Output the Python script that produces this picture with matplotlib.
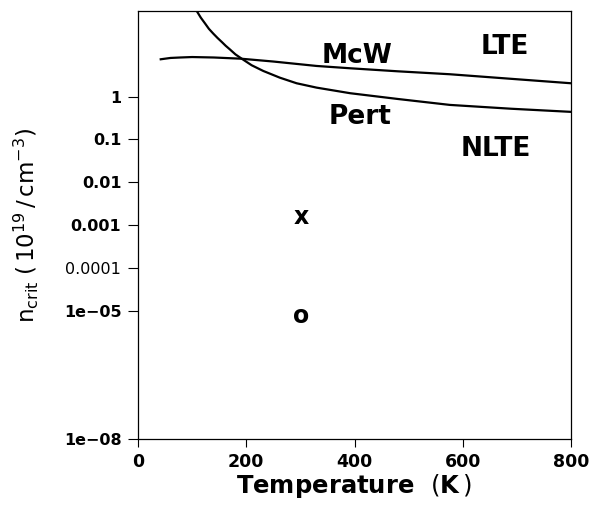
import matplotlib
matplotlib.use("Agg")
import matplotlib.pyplot as plt

plt.rcParams["font.family"] = ["DejaVu Sans"]
plt.rcParams["mathtext.fontset"] = "dejavusans"

# curve values (T in K, n_crit in 1e19/cm^3)
mcw_T = [42, 60, 78, 100, 140, 190, 250, 330, 392, 480, 576, 690, 800]
mcw_n = [7.45, 8.0, 8.2, 8.4, 8.2, 7.69, 6.6, 5.2, 4.59, 3.9, 3.33, 2.6, 2.05]

pert_T = [108.5, 116, 124, 131, 139, 147, 155, 162, 170, 180, 191.6, 210, 231.5,
          262, 293, 330, 392, 480, 576, 690, 800]
pert_n = [100, 70, 50.9, 38.3, 29.7, 23.4, 18.8, 15.4, 12.6, 9.7, 7.69, 5.4, 3.97,
          2.77, 2.05, 1.62, 1.2, 0.88, 0.64, 0.52, 0.44]

# region labels
region_text = ["McW", "LTE", "Pert", "NLTE"]
region_T = [405, 678, 410, 661]
region_n = [6.2, 9.7, 0.231, 0.0414]

# single points drawn as letters
point_text = ["x", "o"]
point_T = [302, 302]
point_n = [1.08e-3, 5.0e-6]

y_ticks = [1e-8, 1e-5, 1e-4, 1e-3, 1e-2, 1e-1, 1]
y_ticklabels = ["1e\u221208", "1e\u221205", "0.0001", "0.001", "0.01", "0.1", "1"]
x_ticks = [0, 200, 400, 600, 800]

fig = plt.figure(figsize=(6.0, 5.07), dpi=100)
ax = fig.add_axes([0.23, 0.1341, 0.7217, 0.8442])

ax.plot(mcw_T, mcw_n, color="black", linewidth=1.6)
ax.plot(pert_T, pert_n, color="black", linewidth=1.6)

for txt, t, n in zip(region_text, region_T, region_n):
    ax.text(t, n, txt, ha="center", va="baseline", fontsize=19, fontweight="bold")
for txt, t, n in zip(point_text, point_T, point_n):
    ax.text(t, n, txt, ha="center", va="baseline", fontsize=17, fontweight="bold")

ax.set_yscale("log")
ax.set_xlim(0, 800)
ax.set_ylim(1e-8, 100)
ax.set_xticks(x_ticks)
ax.set_xticklabels([str(v) for v in x_ticks], fontweight="bold", fontsize=12.5)
ax.set_yticks(y_ticks)
ax.set_yticklabels(y_ticklabels, fontweight="bold", fontsize=11.5)
ax.yaxis.get_ticklabels()[2].set_fontweight("normal")
ax.minorticks_off()
ax.tick_params(axis="x", direction="out", length=6, width=0.8, pad=4)
ax.tick_params(axis="y", direction="out", length=7, width=0.8, pad=5)
for s in ax.spines.values():
    s.set_linewidth(0.9)

ax.set_xlabel(r"Temperature  $\left(\mathbf{K}\,\right)$", fontsize=17.5,
              fontweight="bold", labelpad=1)
ax.set_ylabel(r"n$_{\rm crit}$ $\left(\,10^{19}\,/\,\mathrm{cm}^{-3}\right)$",
              fontsize=16.5, labelpad=16)

fig.savefig("out.png", dpi=100)
